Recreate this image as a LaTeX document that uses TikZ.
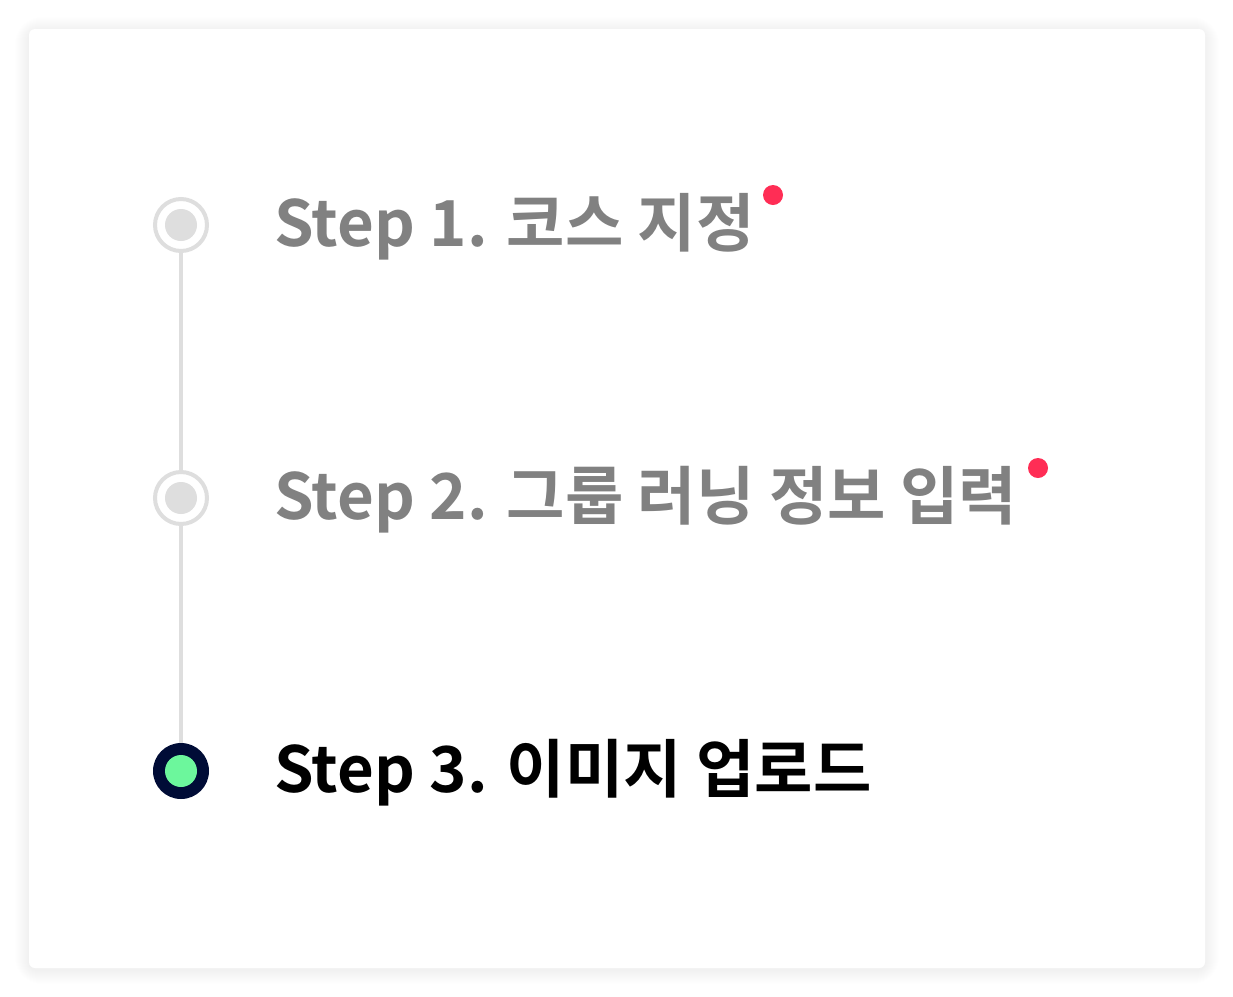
\documentclass[tikz,border=0pt]{standalone}
\usepackage{fontspec}
\setmainfont{Noto Sans CJK KR}[BoldFont={Noto Sans CJK KR Bold}]
\definecolor{stepgray}{HTML}{818181}
\definecolor{ringgray}{HTML}{DEDEDE}
\definecolor{dotred}{HTML}{FF2D55}
\definecolor{navy}{HTML}{000C36}
\definecolor{mint}{HTML}{6CF79C}
\tikzset{
  x=0.75pt, y=-0.75pt,
  doneouter/.style={circle, draw=ringgray, line width=3pt, fill=white, minimum size=39pt, inner sep=0pt},
  doneinner/.style={circle, fill=ringgray, minimum size=24pt, inner sep=0pt},
  curouter/.style={circle, fill=navy, minimum size=42pt, inner sep=0pt},
  curinner/.style={circle, fill=mint, minimum size=24pt, inner sep=0pt},
  steplabel/.style={anchor=base west, inner sep=0pt, font=\bfseries\fontsize{47.6}{58}\selectfont},
  reddot/.style={circle, fill=dotred, minimum size=15pt, inner sep=0pt},
  railline/.style={draw=ringgray, line width=3pt},
}
\begin{document}
\begin{tikzpicture}
\useasboundingbox (0,0) rectangle (1233,997);
% shadow
\foreach \i in {1,...,14}{
  \fill[black, opacity=0.0045, rounded corners=6+\i] (29-\i,29-\i+2) rectangle (1205+\i,968+\i+2);
}
\fill[white, rounded corners=4.5pt] (29,29) rectangle (1205,968);
% rail
\coordinate (p1) at (181,225);
\coordinate (p2) at (181,498);
\coordinate (p3) at (181,771);
\draw[railline] (p1) -- (p2) -- (p3);
% circles
\node[doneouter] (c1) at (p1) {};
\node[doneinner] (c1i) at (p1) {};
\node[doneouter] (c2) at (p2) {};
\node[doneinner] (c2i) at (p2) {};
\node[curouter] (c3) at (p3) {};
\node[curinner] (c3i) at (p3) {};
% labels
\node[steplabel, text=stepgray] (t1) at (274,246) {Step 1. 코스 지정};
\node[steplabel, text=stepgray] (t2) at (274,519) {Step 2. 그룹 러닝 정보 입력};
\node[steplabel, text=black] (t3) at (274,792) {Step 3. 이미지 업로드};
\node[reddot] (r1) at (773,195) {};
\node[reddot] (r2) at (1038,468) {};
\end{tikzpicture}
\end{document}
